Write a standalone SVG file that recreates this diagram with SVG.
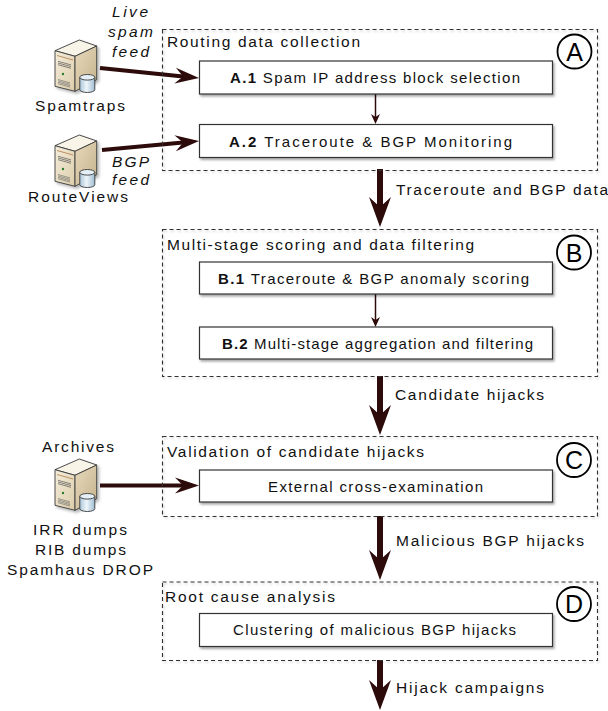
<svg xmlns="http://www.w3.org/2000/svg" xmlns:xlink="http://www.w3.org/1999/xlink" width="608" height="711" viewBox="0 0 608 711">
<defs>
<style>
.t{font-family:"Liberation Sans",Arial,Helvetica,sans-serif;fill:#111}
.lbl{font-size:15.5px}
.bx{font-size:15px}
.it{font-style:italic}
.b{font-weight:bold}
.grp{fill:none;stroke:#333;stroke-width:1.1;stroke-dasharray:4 3}
.step{fill:#fff;stroke:#333;stroke-width:1.2}
.circ{fill:none;stroke:#000;stroke-width:1.8}
.ltr{font-family:"Liberation Sans",Arial,Helvetica,sans-serif;font-size:25px;fill:#000;text-anchor:middle}
.big{fill:none;stroke:#2d0b0b;stroke-width:6}
.side{fill:none;stroke:#2d0b0b;stroke-width:4}
.small{fill:none;stroke:#2d0b0b;stroke-width:1.5}
.ol{stroke:#3a3a3a;stroke-width:0.9;stroke-linejoin:round}
</style>
<filter id="sh" x="-10%" y="-30%" width="125%" height="180%">
<feDropShadow dx="1.5" dy="2" stdDeviation="1.2" flood-color="#000" flood-opacity="0.35"/>
</filter>
<filter id="shl" x="-5%" y="-10%" width="115%" height="130%">
<feDropShadow dx="1" dy="1.5" stdDeviation="0.8" flood-color="#000" flood-opacity="0.22"/>
</filter>
<filter id="shi" x="-20%" y="-20%" width="150%" height="150%">
<feDropShadow dx="2" dy="2" stdDeviation="1.5" flood-color="#000" flood-opacity="0.3"/>
</filter>
<marker id="hBig" markerUnits="userSpaceOnUse" markerWidth="32" markerHeight="24" viewBox="0 -12 32 24" refX="10" refY="0" orient="auto">
<path d="M0,-11 L30,0 L0,11 L10,0 Z" fill="#2d0b0b"/>
</marker>
<marker id="hSide" markerUnits="userSpaceOnUse" markerWidth="26" markerHeight="18" viewBox="0 -9 26 18" refX="8" refY="0" orient="auto">
<path d="M0,-8 L24,0 L0,8 L8,0 Z" fill="#2d0b0b"/>
</marker>
<marker id="hSmall" markerUnits="userSpaceOnUse" markerWidth="11" markerHeight="10" viewBox="0 -5 11 10" refX="3" refY="0" orient="auto">
<path d="M0,-4.5 L10,0 L0,4.5 L3,0 Z" fill="#2d0b0b"/>
</marker>
<linearGradient id="gFront" x1="0" y1="0" x2="1" y2="1">
<stop offset="0" stop-color="#f5eddb"/>
<stop offset="1" stop-color="#dccdaa"/>
</linearGradient>
<linearGradient id="gSide" x1="0" y1="0" x2="1" y2="1">
<stop offset="0" stop-color="#e6d9bc"/>
<stop offset="1" stop-color="#c6b28b"/>
</linearGradient>
<linearGradient id="gCyl" x1="0" y1="0" x2="1" y2="0">
<stop offset="0" stop-color="#a9c6da"/>
<stop offset="0.45" stop-color="#eef5fa"/>
<stop offset="1" stop-color="#9fbdd2"/>
</linearGradient>
<g id="srv">
<g filter="url(#shi)">
<path class="ol" d="M3,11.7 L27.3,1 L44.7,7 L23,17.3 Z" fill="#f9f4e8"/>
<path class="ol" d="M3,11.7 L23,17.3 L23,52.3 L3,47.3 Z" fill="url(#gFront)"/>
<path class="ol" d="M23,17.3 L44.7,7 L44.7,40.7 L23,52.3 Z" fill="url(#gSide)"/>
</g>
<path d="M5,16.5 L21,21" stroke="#b07a45" stroke-width="0.8"/>
<path d="M6,22.3 L19,25.9 M6,24 L19,27.6 M6,25.7 L19,29.3" stroke="#555" stroke-width="0.7"/>
<circle cx="11" cy="35" r="1.2" fill="#2b7a2b"/>
<path d="M6,40.5 L18,43.9 M6,41.9 L18,45.3 M6,43.3 L18,46.7 M6,44.7 L18,48.1" stroke="#666" stroke-width="0.6"/>
<path class="ol" d="M27.8,38.3 L27.8,50.7 A7.5,2.8 0 0 0 42.8,50.7 L42.8,38.3 Z" fill="url(#gCyl)"/>
<ellipse class="ol" cx="35.3" cy="38.3" rx="7.5" ry="2.8" fill="#e4eff6"/>
</g>
</defs>

<rect width="608" height="711" fill="#fff"/>

<g id="connectors">
<line class="side" x1="100" y1="68" x2="183.1" y2="76.4" marker-end="url(#hSide)"/>
<line class="side" x1="102" y1="150" x2="183.1" y2="142.5" marker-end="url(#hSide)"/>
<line class="side" x1="100" y1="485.5" x2="183" y2="485.5" marker-end="url(#hSide)"/>
<line class="small" x1="375.5" y1="94" x2="375.5" y2="117" marker-end="url(#hSmall)"/>
<line class="small" x1="375.5" y1="294" x2="375.5" y2="320" marker-end="url(#hSmall)"/>
<line class="big" x1="380" y1="169" x2="380" y2="207" marker-end="url(#hBig)"/>
<line class="big" x1="380" y1="376" x2="380" y2="415" marker-end="url(#hBig)"/>
<line class="big" x1="380" y1="516" x2="380" y2="560" marker-end="url(#hBig)"/>
<line class="big" x1="380" y1="660" x2="380" y2="690" marker-end="url(#hBig)"/>
<text class="t lbl it" x="112" y="17" textLength="36">Live</text>
<text class="t lbl it" x="108" y="37" textLength="45">spam</text>
<text class="t lbl it" x="112" y="57" textLength="37">feed</text>
<text class="t lbl it" x="112" y="167" textLength="37">BGP</text>
<text class="t lbl it" x="112" y="185" textLength="37">feed</text>
<text class="t lbl" x="396" y="195" textLength="212">Traceroute and BGP data</text>
<text class="t lbl" x="395" y="400" textLength="149">Candidate hijacks</text>
<text class="t lbl" x="396" y="546" textLength="188">Malicious BGP hijacks</text>
<text class="t lbl" x="396" y="693" textLength="148">Hijack campaigns</text>
</g>

<g id="spamtraps">
<use xlink:href="#srv" href="#srv" x="52" y="39"/>
<text class="t lbl" x="35" y="111" textLength="90">Spamtraps</text>
</g>

<g id="routeviews">
<use xlink:href="#srv" href="#srv" x="52" y="134"/>
<text class="t lbl" x="28" y="202" textLength="100">RouteViews</text>
</g>

<g id="archives">
<text class="t lbl" x="42" y="452" textLength="72">Archives</text>
<use xlink:href="#srv" href="#srv" x="52" y="458"/>
<text class="t lbl" x="33" y="535" textLength="94">IRR dumps</text>
<text class="t lbl" x="35" y="555" textLength="91">RIB dumps</text>
<text class="t lbl" x="7" y="575" textLength="146">Spamhaus DROP</text>
</g>

<g id="groupA">
<rect class="grp" x="162.5" y="29.5" width="435" height="141" filter="url(#shl)"/>
<text class="t lbl" x="167" y="47" textLength="193">Routing data collection</text>
<circle class="circ" cx="574.5" cy="51.5" r="17"/>
<text class="ltr" x="574.5" y="60.5">A</text>
</g>
<g id="A1">
<rect class="step" x="199.5" y="61" width="353" height="33" filter="url(#sh)"/>
<text class="t bx" x="230" y="83" textLength="290"><tspan class="b">A.1</tspan> Spam IP address block selection</text>
</g>
<g id="A2">
<rect class="step" x="199.5" y="124.5" width="353" height="33" filter="url(#sh)"/>
<text class="t bx" x="229" y="147" textLength="283"><tspan class="b">A.2</tspan> Traceroute &amp; BGP Monitoring</text>
</g>

<g id="groupB">
<rect class="grp" x="162.5" y="229.5" width="435" height="147" filter="url(#shl)"/>
<text class="t lbl" x="167" y="250" textLength="307">Multi-stage scoring and data filtering</text>
<circle class="circ" cx="574" cy="252.5" r="17"/>
<text class="ltr" x="574" y="261.5">B</text>
</g>
<g id="B1">
<rect class="step" x="199.5" y="262" width="353" height="32" filter="url(#sh)"/>
<text class="t bx" x="218" y="284" textLength="311"><tspan class="b">B.1</tspan> Traceroute &amp; BGP anomaly scoring</text>
</g>
<g id="B2">
<rect class="step" x="199.5" y="327" width="353" height="32" filter="url(#sh)"/>
<text class="t bx" x="222" y="349" textLength="311"><tspan class="b">B.2</tspan> Multi-stage aggregation and filtering</text>
</g>

<g id="groupC">
<rect class="grp" x="162.5" y="436.5" width="435" height="80" filter="url(#shl)"/>
<text class="t lbl" x="167" y="457" textLength="257">Validation of candidate hijacks</text>
<circle class="circ" cx="574" cy="460" r="17"/>
<text class="ltr" x="574" y="469">C</text>
</g>
<g id="C1">
<rect class="step" x="199.5" y="470" width="353" height="32" filter="url(#sh)"/>
<text class="t bx" x="268" y="492" textLength="215">External cross-examination</text>
</g>

<g id="groupD">
<rect class="grp" x="162.5" y="582" width="435" height="78.5" filter="url(#shl)"/>
<text class="t lbl" x="165" y="602" textLength="170">Root cause analysis</text>
<circle class="circ" cx="574" cy="604" r="17"/>
<text class="ltr" x="574" y="613">D</text>
</g>
<g id="D1">
<rect class="step" x="199.5" y="613.5" width="353" height="33" filter="url(#sh)"/>
<text class="t bx" x="233" y="635" textLength="283">Clustering of malicious BGP hijacks</text>
</g>
</svg>
